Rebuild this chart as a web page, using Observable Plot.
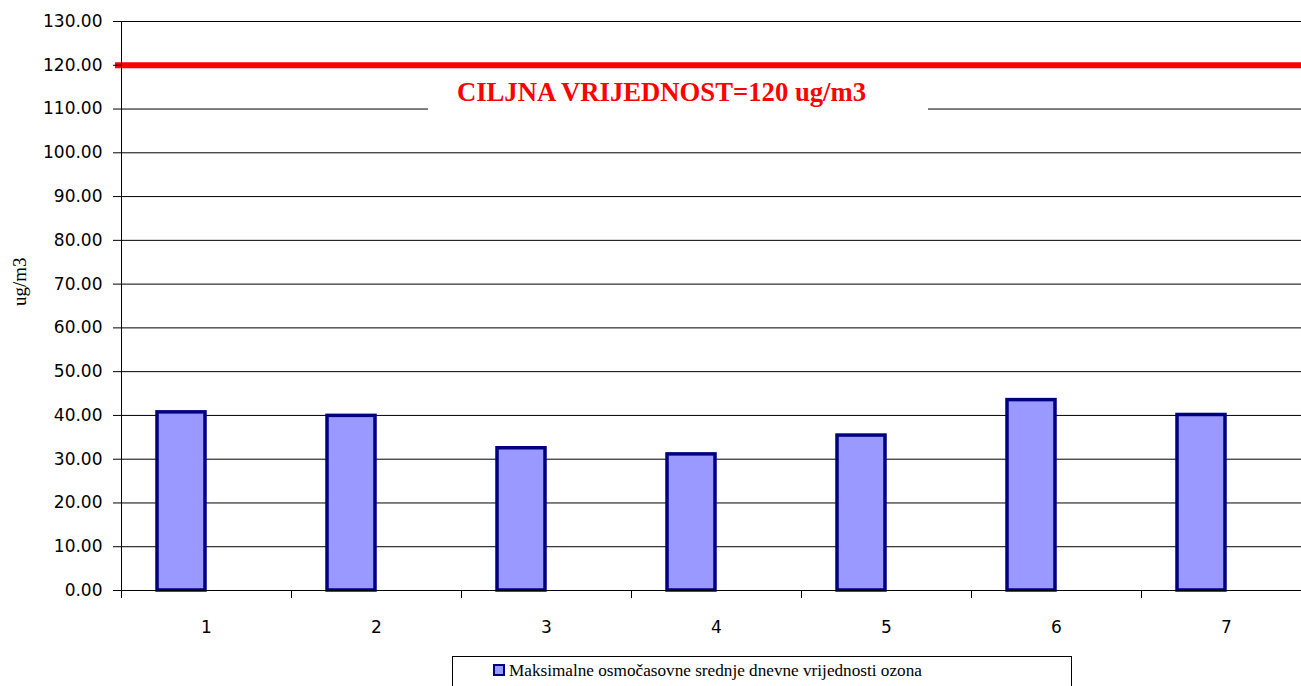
<!DOCTYPE html>
<html>
<head>
<meta charset="utf-8">
<script src="https://cdn.jsdelivr.net/npm/d3@7"></script>
<script src="https://cdn.jsdelivr.net/npm/@observablehq/plot@0.6"></script>
<style>
  html, body { margin: 0; padding: 0; background: #fff; overflow: hidden; width: 1301px; height: 686px; }
  #wrap { position: relative; width: 1301px; height: 686px; overflow: hidden; }
  #chart svg { max-width: none !important; }
  #legend {
    position: absolute; left: 452px; top: 656px; width: 620px; height: 40px;
    border: 1px solid #000; box-sizing: border-box; background: #fff;
    font-family: "Liberation Serif", "Times New Roman", serif; font-size: 17.2px; color: #000;
    padding-left: 40px; padding-top: 4px; white-space: nowrap;
  }
  #legend .sw { display: inline-block; width: 8px; height: 8px; background: #9999ff; border: 2px solid #000080; margin-right: 4px; vertical-align: 0px; }
</style>
</head>
<body>
<div id="wrap"><div id="chart"></div><div id="legend"></div></div>
<script>
const days = [1, 2, 3, 4, 5, 6, 7];
const values = [40.7, 39.9, 32.5, 31.1, 35.4, 43.5, 40.1];
const yTicks = [0, 10, 20, 30, 40, 50, 60, 70, 80, 90, 100, 110, 120, 130];
const targetValue = 120;
const labelBoxTick = 110;
const targetLabel = "CILJNA VRIJEDNOST=120 ug/m3";
const yLabel = "ug/m3";
const seriesName = "Maksimalne osmočasovne srednje dnevne vrijednosti ozona";

const data = days.map((d, i) => ({day: d, value: values[i]}));

const chart = Plot.plot({
  width: 1311,
  height: 652,
  marginLeft: 121,
  marginRight: 0,
  marginTop: 21,
  marginBottom: 62,
  style: {fontFamily: "DejaVu Sans, sans-serif", fontSize: "17px", color: "#000", background: "#fff", overflow: "visible", maxWidth: "none"},
  x: {type: "band", domain: days, padding: 0},
  y: {domain: [0, 130]},
  marks: [
    Plot.gridY(yTicks, {stroke: "#000", strokeOpacity: 1, strokeWidth: 1}),
    // white label box of the target text interrupts the gridline underneath it
    Plot.ruleY([labelBoxTick], {stroke: "#fff", strokeWidth: 3, insetLeft: 307, insetRight: 383}),
    Plot.text([targetLabel], {
      y: 113.9, frameAnchor: "middle", dx: -55,
      fill: "#ff0000",
      fontFamily: "Liberation Serif, Times New Roman, serif", fontWeight: "bold", fontSize: 26.7
    }),
    Plot.barY(data, {x: "day", y: "value", fill: "#9999ff", stroke: "#000080", strokeWidth: 3.5, insetLeft: 36, insetRight: 86}),
    Plot.ruleY([targetValue], {stroke: "#ff0000", strokeWidth: 6, insetLeft: -6}),
    Plot.frame({anchor: "left", stroke: "#000"}),
    Plot.ruleY([0], {stroke: "#000"}),
    Plot.ruleX(days, {x: d => d, y1: 0, y2: -1.85, dx: -85, stroke: "#000"}),
    Plot.axisY(yTicks, {tickSize: 8, tickPadding: 11, tickFormat: d => d.toFixed(2), label: null, fontSize: 17}),
    Plot.axisX({tickSize: 0, tickPadding: 30, label: null, fontSize: 17}),
    Plot.text([yLabel], {frameAnchor: "left", dx: -102, rotate: -90, fontFamily: "Liberation Serif, Times New Roman, serif", fontSize: 19, fill: "#000"})
  ]
});
document.getElementById("chart").appendChild(chart);

const lg = document.getElementById("legend");
const sw = document.createElement("span"); sw.className = "sw";
lg.appendChild(sw);
lg.appendChild(document.createTextNode(seriesName));
</script>
</body>
</html>
